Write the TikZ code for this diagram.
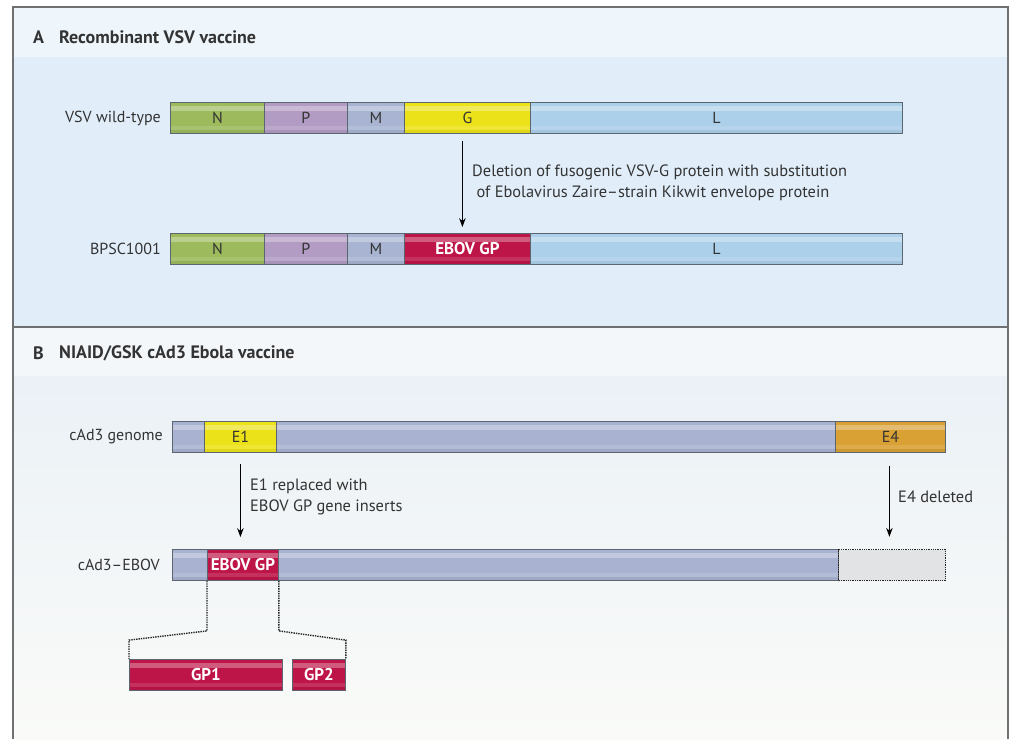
\documentclass[tikz,border=0pt]{standalone}
\usepackage{fontspec}
\setmainfont{PT Sans}
\usetikzlibrary{arrows.meta}
\definecolor{frame}{HTML}{6E7072}
\definecolor{hdrA}{HTML}{EEF6FC}
\definecolor{bodyA}{HTML}{E1EEFA}
\definecolor{hdrB}{HTML}{F3F7FA}
\definecolor{bodyBtop}{HTML}{EBF1F7}
\definecolor{bodyBbot}{HTML}{FAFBF8}
\definecolor{txt}{HTML}{333333}
\definecolor{segline}{HTML}{5C6670}
\definecolor{cN}{HTML}{9DBB5C}
\definecolor{cP}{HTML}{B29CC4}
\definecolor{cM}{HTML}{A8B4D2}
\definecolor{cG}{HTML}{ECE21A}
\definecolor{cL}{HTML}{ADD0EA}
\definecolor{cGP}{HTML}{BE1549}
\definecolor{cAd}{HTML}{A9B3D1}
\definecolor{cE4}{HTML}{D9A034}
\definecolor{cDel}{HTML}{E2E3E5}
\tikzset{
  seg/.style={draw=segline, line width=0.8pt, minimum height=31pt, inner sep=0pt,
    anchor=west, font=\fontsize{16}{18}\selectfont, text=txt,
    path picture={
      \fill[white, opacity=0.3] ([yshift=-3pt]path picture bounding box.north west) rectangle ([yshift=-8pt]path picture bounding box.north east);
      \fill[white, opacity=0.12] ([yshift=4pt]path picture bounding box.south west) rectangle ([yshift=8pt]path picture bounding box.south east);
      \fill[black, opacity=0.05] (path picture bounding box.south west) rectangle ([yshift=4pt]path picture bounding box.south east);
    }},
  wseg/.style={seg, text=white, font=\fontsize{17}{18}\selectfont\bfseries},
  lbl/.style={anchor=east, text=txt, font=\fontsize{16}{21}\selectfont, inner sep=0pt},
  note/.style={anchor=west, text=txt, font=\fontsize{16.4}{21}\selectfont, inner sep=0pt, align=left},
  ttl/.style={anchor=west, text=txt, font=\fontsize{18}{20}\selectfont\bfseries, inner sep=0pt},
  arr/.style={-{Stealth[length=9pt,width=6.5pt]}, line width=1pt, draw=black},
  dots/.style={densely dotted, line width=1.4pt, draw=black!85},
}
\begin{document}
\begin{tikzpicture}[x=1pt,y=-1pt]
\useasboundingbox (0,0) rectangle (1011,739);
\fill[white] (0,0) rectangle (1011,739);
% panel A
\fill[hdrA] (13,7) rectangle (1008,57);
\fill[bodyA] (13,57) rectangle (1008,327);
% panel B
\fill[hdrB] (13,327) rectangle (1008,376);
\shade[top color=bodyBtop, bottom color=bodyBbot] (13,376) rectangle (1008,739);
% frame
\draw[frame, line width=2pt] (13,739) -- (13,7) -- (1008,7) -- (1008,739);
\draw[frame, line width=2pt] (13,327) -- (1008,327);

% titles
\node[ttl] (tA) at (33,37) {A};
\node[ttl] (tA2) at (59,37) {Recombinant VSV vaccine};
\node[ttl] (tB) at (33,353) {B};
\node[ttl] (tB2) at (59,353) {NIAID/GSK cAd3 Ebola vaccine};

% VSV wild-type
\node[lbl] (l1) at (161,118) {VSV wild-type};
\node[seg, fill=cN, minimum width=94pt] (N1) at (170,118) {N};
\node[seg, fill=cP, minimum width=83pt] (P1) at (264,118) {P};
\node[seg, fill=cM, minimum width=57pt] (M1) at (347,118) {M};
\node[seg, fill=cG, minimum width=126pt] (G1) at (404,118) {G};
\node[seg, fill=cL, minimum width=372pt] (L1) at (530,118) {L};

% BPSC1001
\node[lbl] (l2) at (161,249) {BPSC1001};
\node[seg, fill=cN, minimum width=94pt] (N2) at (170,249) {N};
\node[seg, fill=cP, minimum width=83pt] (P2) at (264,249) {P};
\node[seg, fill=cM, minimum width=57pt] (M2) at (347,249) {M};
\node[wseg, fill=cGP, minimum width=126pt] (GP2) at (404,249) {EBOV GP};
\node[seg, fill=cL, minimum width=372pt] (L2) at (530,249) {L};

\draw[arr] ([xshift=-5pt,yshift=-7pt]G1.south) -- ([xshift=-5pt,yshift=6pt]GP2.north);
\node[note] (n1) at (472,183) {Deletion of fusogenic VSV-G protein with substitution\\\ of Ebolavirus Zaire\textendash strain Kikwit envelope protein};

% cAd3 genome
\node[lbl] (l3) at (163,437) {cAd3 genome};
\node[seg, fill=cAd, minimum width=32pt] (A0) at (172,437) {};
\node[seg, fill=cG, minimum width=72pt] (E1) at (204,437) {E1};
\node[seg, fill=cAd, minimum width=559pt] (A1) at (276,437) {};
\node[seg, fill=cE4, minimum width=110pt] (E4) at (835,437) {E4};

% cAd3-EBOV
\node[lbl] (l4) at (160,565) {cAd3\textendash EBOV};
\node[seg, fill=cAd, minimum width=35pt] (B0) at (172,565) {};
\node[wseg, fill=cGP, minimum width=71pt] (EG) at (207,565) {EBOV GP};
\node[seg, fill=cAd, minimum width=560pt] (B1) at (278,565) {};
\node[draw=black!85, densely dotted, line width=1.3pt, fill=cDel, minimum width=107pt, minimum height=31pt, anchor=west, inner sep=0pt] (D4) at (838,565) {};

\draw[arr] ([yshift=-11pt]E1.south) -- ([yshift=12pt]E1.south |- EG.north);
\node[note] (n2) at (250,497) {E1 replaced with\\EBOV GP gene inserts};
\draw[arr] ([xshift=-1pt,yshift=-13pt]E4.south) -- ([xshift=-1pt,yshift=12pt]E4.south |- D4.north);
\node[note] (n3) at (898,497) {E4 deleted};

% GP1 / GP2
\node[wseg, fill=cGP, minimum width=153pt] (gp1) at (129,675) {GP1};
\node[wseg, fill=cGP, minimum width=53pt] (gp2) at (292,675) {GP2};
\draw[dots] (EG.south west) -- ++(0,50) -- ([yshift=19pt]gp1.north west) -- (gp1.north west);
\draw[dots] (EG.south east) -- ++(0,50) -- ([yshift=19pt]gp2.north east) -- (gp2.north east);
\end{tikzpicture}
\end{document}
